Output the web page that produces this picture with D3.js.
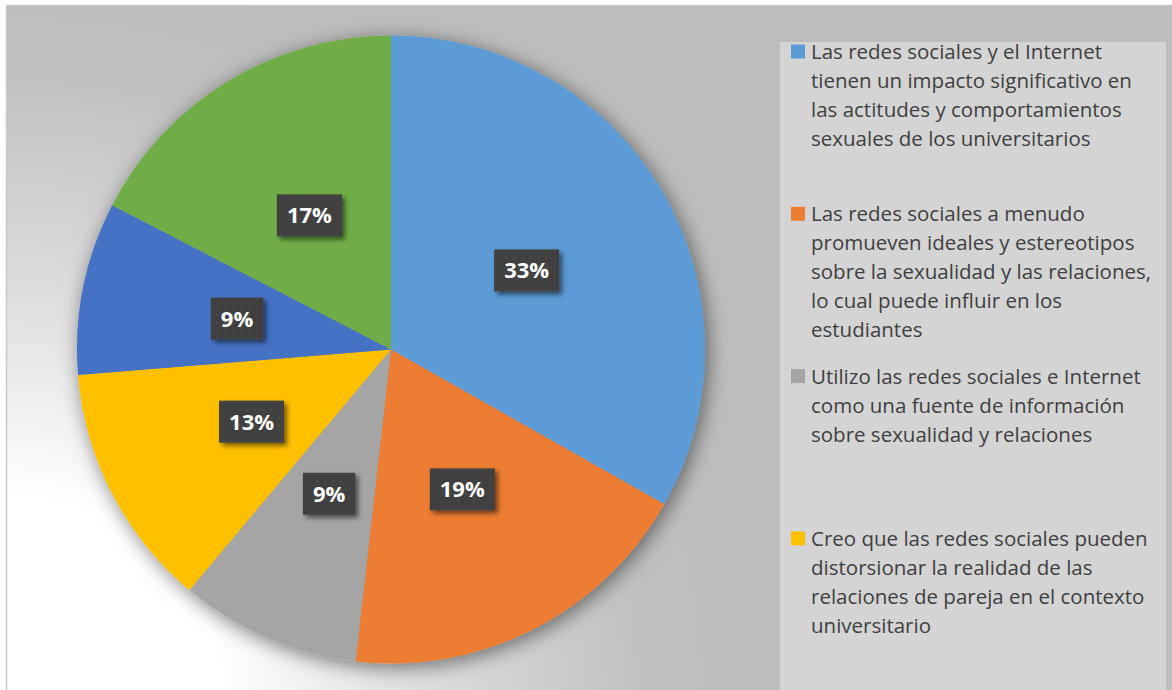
<!DOCTYPE html>
<html>
<head>
<meta charset="utf-8">
<script src="https://cdn.jsdelivr.net/npm/d3@7"></script>
<style>
    body { margin: 0; background: #ffffff; }
    svg { display: block; }
</style>
</head>
<body>
<script>
// slice values (percent, clockwise from 12 o'clock)
let values = [33.2, 18.6, 9.3, 12.6, 8.9, 17.4];
let colors = ["#5B9BD5", "#ED7D31", "#A5A5A5", "#FFC000", "#4472C4", "#70AD47"];
// legend entries that are visible in the chart (already wrapped)
let legendLines = [
    ["Las redes sociales y el Internet", "tienen un impacto significativo en", "las actitudes y comportamientos", "sexuales de los universitarios"],
    ["Las redes sociales a menudo", "promueven ideales y estereotipos", "sobre la sexualidad y las relaciones,", "lo cual puede influir en los", "estudiantes"],
    ["Utilizo las redes sociales e Internet", "como una fuente de información", "sobre sexualidad y relaciones"],
    ["Creo que las redes sociales pueden", "distorsionar la realidad de las", "relaciones de pareja en el contexto", "universitario"]
];

let width = 1172, height = 690;
let cx = 391, cy = 349.5, radius = 314;

let svg = d3.select("body").append("svg")
    .attr("width", width)
    .attr("height", height);

let defs = svg.append("defs");

// background gradient, white at the bottom left corner
let grad = defs.append("radialGradient")
    .attr("id", "bg")
    .attr("gradientUnits", "userSpaceOnUse")
    .attr("cx", 10).attr("cy", 710).attr("r", 760);
grad.append("stop").attr("offset", 0).attr("stop-color", "#ffffff");
grad.append("stop").attr("offset", 0.28).attr("stop-color", "#ffffff");
grad.append("stop").attr("offset", 0.56).attr("stop-color", "#dcdcdc");
grad.append("stop").attr("offset", 0.85).attr("stop-color", "#bfbfbf");
grad.append("stop").attr("offset", 1).attr("stop-color", "#bdbdbd");

// shadow under the pie
let pieShadow = defs.append("filter")
    .attr("id", "pieShadow")
    .attr("x", "-20%").attr("y", "-20%").attr("width", "140%").attr("height", "140%");
pieShadow.append("feDropShadow")
    .attr("dx", 3).attr("dy", 4)
    .attr("stdDeviation", 10)
    .attr("flood-color", "#000")
    .attr("flood-opacity", 0.5);

// shadow under the label boxes
let boxShadow = defs.append("filter")
    .attr("id", "boxShadow")
    .attr("x", "-30%").attr("y", "-30%").attr("width", "170%").attr("height", "170%");
boxShadow.append("feDropShadow")
    .attr("dx", 3).attr("dy", 3)
    .attr("stdDeviation", 2.5)
    .attr("flood-color", "#000")
    .attr("flood-opacity", 0.55);

// dotted fill of the label boxes
let dots = defs.append("pattern")
    .attr("id", "dots")
    .attr("patternUnits", "userSpaceOnUse")
    .attr("width", 8).attr("height", 8);
dots.append("rect").attr("width", 8).attr("height", 8).attr("fill", "#404040");
dots.append("circle").attr("cx", 4).attr("cy", 4).attr("r", 1.1).attr("fill", "#4e4e4e");

// chart area
svg.append("rect")
    .attr("x", 6.5).attr("y", 5.5)
    .attr("width", width).attr("height", height)
    .attr("fill", "url(#bg)")
    .attr("stroke", "#c8c8c8")
    .attr("stroke-width", 1.5);

// legend box
svg.append("rect")
    .attr("x", 780).attr("y", 42)
    .attr("width", 386).attr("height", height - 42)
    .attr("fill", "#d4d4d4");

// pie
let pie = d3.pie().sort(null).value((d) => d);
let arc = d3.arc().innerRadius(0).outerRadius(radius);
let arcs = pie(values);

let pieGroup = svg.append("g")
    .attr("transform", "translate(" + cx + "," + cy + ")");

pieGroup.append("g")
    .attr("filter", "url(#pieShadow)")
    .selectAll("path")
    .data(arcs)
    .join("path")
    .attr("d", arc)
    .attr("fill", (d, i) => colors[i]);

// data labels at the centroid of each slice
let labels = pieGroup.selectAll("g.label")
    .data(arcs)
    .join("g")
    .classed("label", true)
    .attr("transform", (d) => "translate(" + arc.centroid(d) + ")");

let labelText = labels.append("text")
    .attr("text-anchor", "middle")
    .attr("dy", "0.36em")
    .attr("fill", "#ffffff")
    .style("font-family", "'Open Sans', sans-serif")
    .style("font-weight", "bold")
    .style("font-size", "22px")
    .text((d) => Math.round(d.value) + "%");

labelText.each(function(d) {
    let w = this.getComputedTextLength();
    d3.select(this.parentNode).insert("rect", "text")
        .attr("x", -w / 2 - 10)
        .attr("y", -21)
        .attr("width", w + 20)
        .attr("height", 42)
        .attr("fill", "url(#dots)")
        .attr("filter", "url(#boxShadow)");
});

// legend
let legend = svg.append("g");
let entryStep = 162.3, lineStep = 29;

let entries = legend.selectAll("g")
    .data(legendLines)
    .join("g")
    .attr("transform", (d, i) => "translate(791," + (51.5 + i * entryStep) + ")");

entries.append("rect")
    .attr("x", 0).attr("y", -7)
    .attr("width", 14).attr("height", 14)
    .attr("fill", (d, i) => colors[i]);

entries.append("text")
    .attr("fill", "#404040")
    .style("font-family", "'Open Sans', sans-serif")
    .style("font-size", "20.5px")
    .selectAll("tspan")
    .data((d) => d)
    .join("tspan")
    .attr("x", 20)
    .attr("y", (d, j) => 7.5 + j * lineStep)
    .text((d) => d);
</script>
</body>
</html>
